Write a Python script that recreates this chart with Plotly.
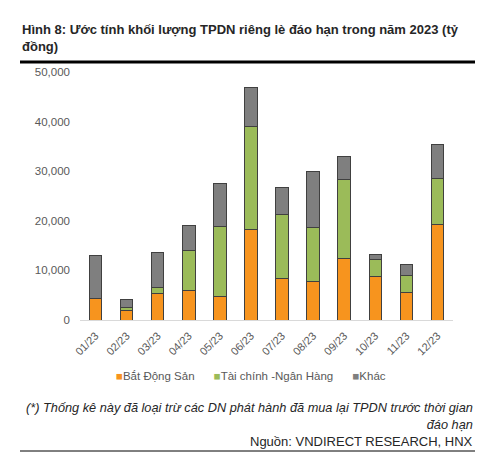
import plotly.graph_objects as go

months = ["01/23", "02/23", "03/23", "04/23", "05/23", "06/23",
          "07/23", "08/23", "09/23", "10/23", "11/23", "12/23"]
bat_dong_san = [4360, 1880, 5370, 5900, 4770, 18320, 8460, 7790, 12480, 8790, 5570, 19260]
tai_chinh = [0, 670, 1140, 8130, 14160, 20680, 12820, 10800, 15780, 3420, 3420, 9260]
khac = [8590, 1680, 7050, 5100, 8520, 7780, 5500, 11280, 4760, 940, 2220, 6920]

W, H = 502, 463
L, R, T, B = 80, 49, 72, 143
pw, ph = W - L - R, H - T - B


def px(x):
    return (x - L) / pw


def py(y):
    return (H - B - y) / ph


fig = go.Figure()
series = [
    ("Bắt Động Sản", bat_dong_san, "#F7941E"),
    ("Tài chính -Ngân Hàng", tai_chinh, "#9BBB59"),
    ("Khác", khac, "#7F7F7F"),
]
for name, vals, col in series:
    fig.add_trace(go.Bar(
        x=months, y=vals, name=name,
        marker=dict(color=col, line=dict(color="#404040", width=1)),
    ))

fig.update_layout(
    width=W, height=H,
    margin=dict(l=L, r=R, t=T, b=B),
    barmode="stack", bargap=0.6,
    plot_bgcolor="white", paper_bgcolor="white",
    font=dict(family="Liberation Sans, Arial", size=11, color="#595959"),
    showlegend=False,
    xaxis=dict(showline=True, linecolor="#D9D9D9", linewidth=1, tickangle=-45,
               ticks="", showgrid=False, ticklabelstandoff=4,
               tickfont=dict(size=11, color="#595959")),
    yaxis=dict(range=[0, 50000], dtick=10000, tickformat=",", showgrid=False,
               zeroline=False, showline=False, ticks="", ticklabelstandoff=9,
               tickfont=dict(size=11.5, color="#595959")),
)

# legend drawn as text: small coloured square right before each name
legend_parts = []
for name, vals, col in series:
    legend_parts.append('<span style="color:%s">■</span>%s' % (col, name))
fig.add_annotation(
    x=px(251), y=py(376), xref="paper", yref="paper", xanchor="center", yanchor="middle",
    showarrow=False, text="      ".join(legend_parts),
    font=dict(size=11.5, color="#595959"),
)

fig.add_annotation(
    x=px(20), y=py(20), xref="paper", yref="paper", xanchor="left", yanchor="top",
    align="left", showarrow=False,
    text="<b>Hình 8: Ước tính khối lượng TPDN riêng lè đáo hạn trong năm 2023 (tỷ<br>đồng)</b>",
    font=dict(size=13, color="#262626"),
)
fig.add_annotation(
    x=px(475), y=py(398), xref="paper", yref="paper", xanchor="right", yanchor="top",
    align="right", showarrow=False,
    text="<i>(*) Thống kê này đã loại trừ các DN phát hành đã mua lại TPDN trước thời gian<br>đáo hạn</i>",
    font=dict(size=12.75, color="#262626"),
)
fig.add_annotation(
    x=px(475), y=py(432), xref="paper", yref="paper", xanchor="right", yanchor="top",
    align="right", showarrow=False,
    text="Nguồn: VNDIRECT RESEARCH, HNX",
    font=dict(size=13, color="#262626"),
)
fig.add_shape(type="line", xref="paper", yref="paper",
              x0=px(20), x1=px(475), y0=py(62), y1=py(62),
              line=dict(color="black", width=3))
fig.add_shape(type="line", xref="paper", yref="paper",
              x0=px(20), x1=px(475), y0=py(451), y1=py(451),
              line=dict(color="black", width=1))

fig.write_html("out.html", config={"displayModeBar": False},
               post_script="document.body.style.margin='0';")
